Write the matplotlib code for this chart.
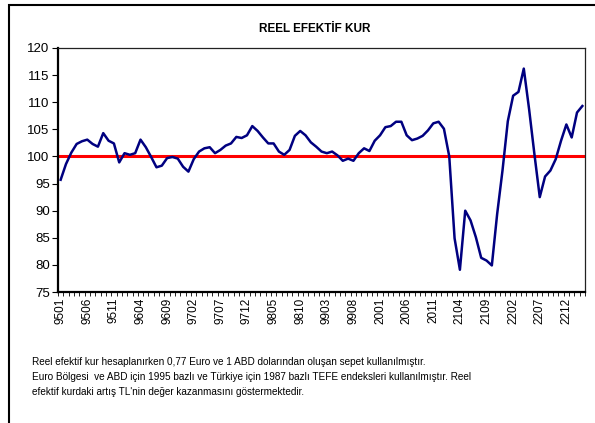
import matplotlib
matplotlib.use('Agg')
import matplotlib.pyplot as plt
import numpy as np
from matplotlib.patches import Rectangle

plt.rcParams['font.family'] = ['Liberation Sans', 'DejaVu Sans']

# aylik reel efektif kur endeksi, 9501 - 0303
kur = [95.7, 98.6, 100.7, 102.3, 102.8, 103.1, 102.3, 101.8, 104.3, 102.9,
       102.4, 98.9, 100.6, 100.3, 100.6, 103.1, 101.7, 99.9, 98.0, 98.3,
       99.7, 99.9, 99.6, 98.1, 97.2, 99.5, 100.9, 101.5, 101.7, 100.6,
       101.2, 102.0, 102.4, 103.6, 103.4, 103.9, 105.6, 104.7, 103.5, 102.4,
       102.4, 100.9, 100.3, 101.2, 103.8, 104.7, 103.9, 102.6, 101.8, 100.9,
       100.6, 100.9, 100.2, 99.2, 99.6, 99.2, 100.6, 101.5, 101.0, 102.9,
       103.9, 105.4, 105.6, 106.4, 106.4, 103.9, 103.0, 103.3, 103.8, 104.8,
       106.1, 106.4, 105.1, 100.0, 84.9, 79.1, 90.0, 88.2, 85.1, 81.3,
       80.8, 79.9, 89.4, 97.4, 106.5, 111.2, 111.9, 116.2, 108.7, 100.4,
       92.5, 96.3, 97.4, 99.5, 102.9, 105.9, 103.5, 108.1, 109.3]

etiketler = ['9501', '9506', '9511', '9604', '9609', '9702', '9707', '9712',
             '9805', '9810', '9903', '9908', '2001', '2006', '2011', '2104',
             '2109', '2202', '2207', '2212']

baz = 100

notlar = ['Reel efektif kur hesaplanırken 0,77 Euro ve 1 ABD dolarından oluşan sepet kullanılmıştır.',
          'Euro Bölgesi  ve ABD için 1995 bazlı ve Türkiye için 1987 bazlı TEFE endeksleri kullanılmıştır. Reel',
          'efektif kurdaki artış TL\'nin değer kazanmasını göstermektedir.']

fig = plt.figure(figsize=(5.95, 4.23), dpi=100)
ax = fig.add_axes([58/595, 1 - 292/423, (585 - 58)/595, (292 - 48)/423])

x = np.arange(len(kur))
ax.axhline(baz, color='#ff0000', linewidth=2.2, zorder=2)
ax.plot(x, kur, color='#000080', linewidth=1.8, zorder=3)

ax.set_xlim(-0.5, len(kur) - 0.5)
ax.set_ylim(75, 120)
ax.set_yticks(np.arange(75, 121, 5))
ax.tick_params(axis='y', labelsize=9.5, length=4, width=0.8, pad=2)

ax.set_xticks(np.arange(0, 5 * len(etiketler), 5))
ax.set_xticklabels(etiketler, rotation=90, fontsize=8.5)
ax.tick_params(axis='x', length=0, pad=4)
ax.set_xticks(np.arange(-0.5, len(kur), 1), minor=True)
ax.tick_params(axis='x', which='minor', length=3, width=0.6)

for s in ['left', 'bottom']:
    ax.spines[s].set_linewidth(1.6)
for s in ['top', 'right']:
    ax.spines[s].set_linewidth(0.9)
    ax.spines[s].set_color('#222222')

fig.text(315/595, 1 - 29/423, 'REEL EFEKTİF KUR', ha='center', va='center',
         fontsize=8.5, fontweight='bold')

for i, t in enumerate(notlar):
    fig.text(32/595, 1 - (362 + 15 * i)/423, t, ha='left', va='center', fontsize=7.2)

# grafigin dis cercevesi
fig.patches.append(Rectangle((9/595, -0.1), 1.2, 1.1 - 5/423, transform=fig.transFigure,
                             fill=False, edgecolor='black', linewidth=1.5, clip_on=False))

plt.savefig('out.png', dpi=100)
